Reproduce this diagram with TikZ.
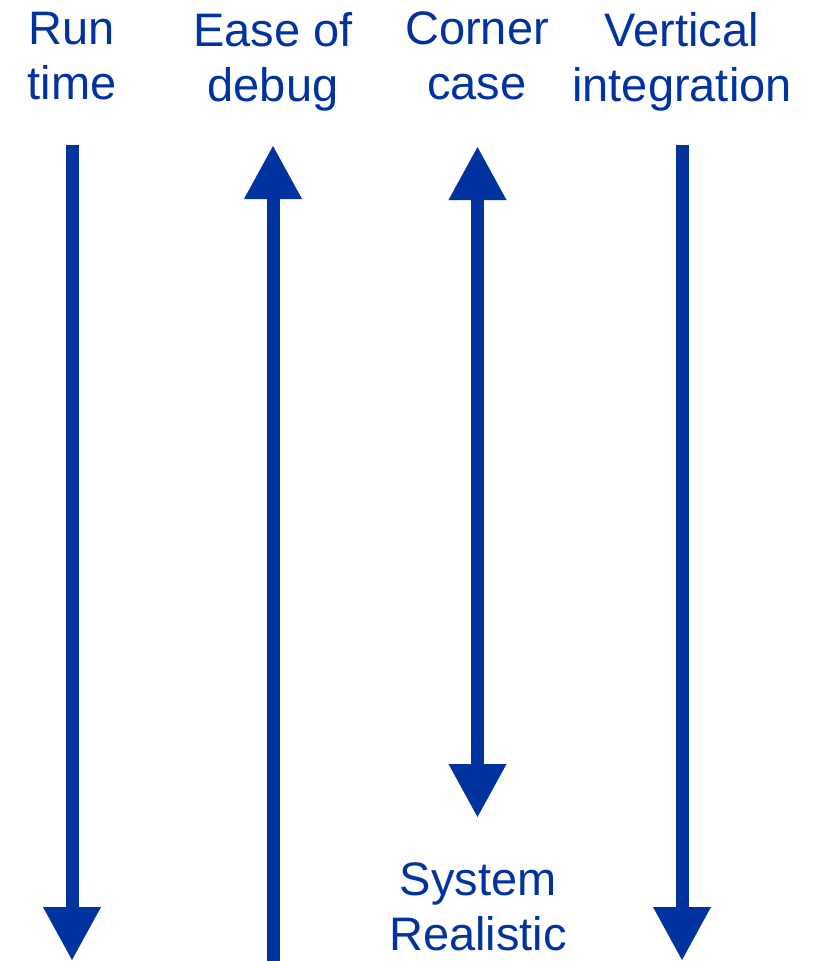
\documentclass[tikz,border=0pt]{standalone}
\usepackage{fontspec}
\setmainfont{Liberation Sans}
\usepackage{tikz}
\usetikzlibrary{arrows.meta}
\definecolor{ejeAzul}{HTML}{0033A0}

\begin{document}
\begin{tikzpicture}[
        x=1pt, y=-1pt,
        lbl/.style={align=center, inner sep=0pt, anchor=north, text=ejeAzul,
            font=\fontsize{47}{55}\selectfont},
        eje/.style={line width=13pt, draw=ejeAzul},
        ida/.style={eje, -{Triangle[length=54pt, width=54pt]}},
        doble/.style={eje, {Triangle[length=54pt, width=54pt]}-{Triangle[length=54pt, width=54pt]}}
    ]
        \useasboundingbox (0,0) rectangle (820,961);

        % --- ETIQUETAS ---
        \node[lbl] (runtime) at (72, 12) {Run\\time};
        \node[lbl] (debug) at (273, 12) {Ease of\\debug};
        \node[lbl] (corner) at (477, 11) {Corner\\case};
        \node[lbl] (vertical) at (682, 12) {Vertical\\integration};
        \node[lbl] (sistema) at (478, 862) {System\\Realistic};

        % Extremos de los ejes
        \coordinate (runA) at (72, 145);
        \coordinate (runB) at (72, 961);
        \coordinate (debA) at (273, 961);
        \coordinate (debB) at (273, 145);
        \coordinate (corA) at (477.5, 146);
        \coordinate (corB) at (477.5, 818);
        \coordinate (verA) at (682, 145);
        \coordinate (verB) at (682, 961);

        % --- EJES ---
        \draw[ida] (runA) -- (runB);
        \draw[ida] (debA) -- (debB);
        \draw[doble] (corA) -- (corB);
        \draw[ida] (verA) -- (verB);
    \end{tikzpicture}
\end{document}
